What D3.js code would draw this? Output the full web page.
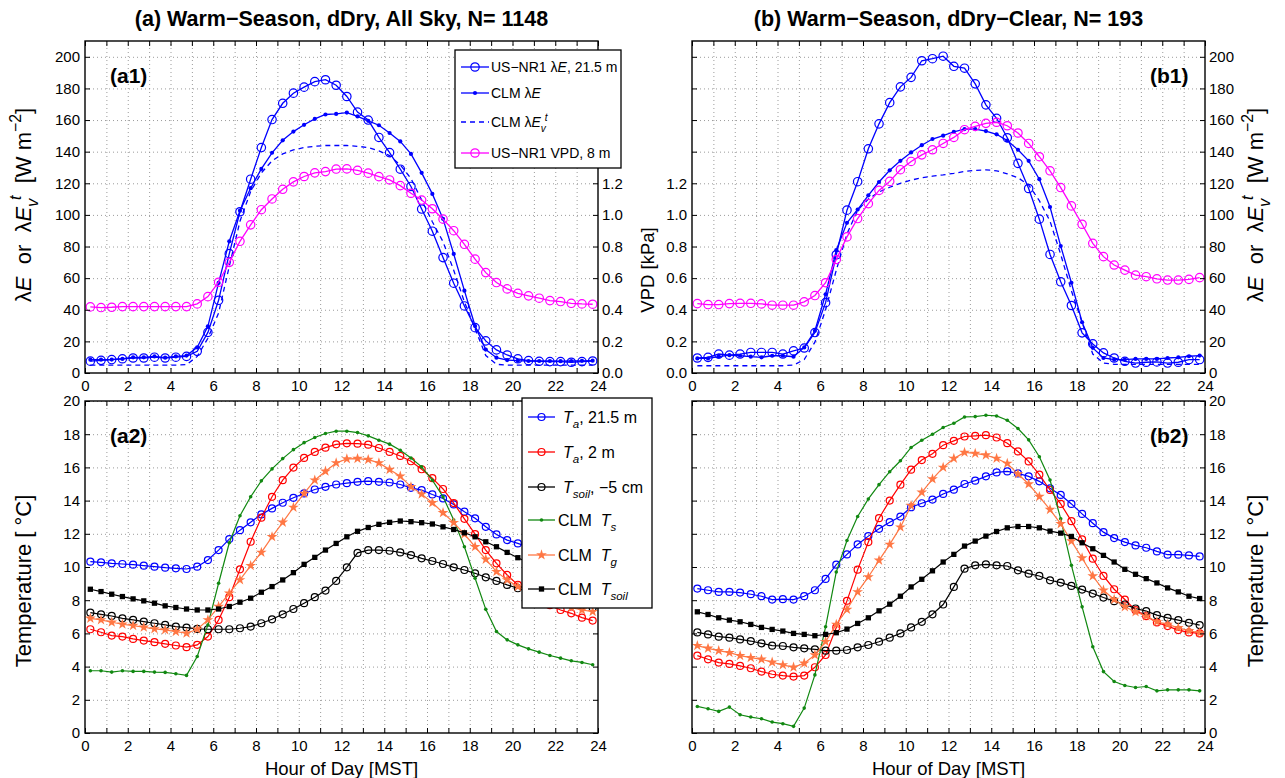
<!DOCTYPE html>
<html><head><meta charset="utf-8">
<script src="https://cdn.jsdelivr.net/npm/d3@7"></script>
<style>
body{margin:0;background:#fff;}
svg text{font-family:"Liberation Sans",Arial,Helvetica,sans-serif;white-space:pre;}
</style></head><body>
<svg id="fig" width="1285" height="778"></svg>
<script>
// Half-hourly bin centres (hour of day, MST)
const hours = [0.25,0.75,1.25,1.75,2.25,2.75,3.25,3.75,4.25,4.75,5.25,5.75,6.25,6.75,7.25,7.75,8.25,8.75,9.25,9.75,10.25,10.75,11.25,11.75,
  12.25,12.75,13.25,13.75,14.25,14.75,15.25,15.75,16.25,16.75,17.25,17.75,18.25,18.75,19.25,19.75,20.25,20.75,21.25,21.75,22.25,22.75,23.25,23.75];

// Tick values
const hourTicks = [0,1,2,3,4,5,6,7,8,9,10,11,12,13,14,15,16,17,18,19,20,21,22,23,24];
const leTicks = [0,20,40,60,80,100,120,140,160,180,200];
const vpdTicks = [0,0.2,0.4,0.6,0.8,1.0,1.2,1.4,1.6,1.8,2.0];
const vpdLabelled = [0,0.2,0.4,0.6,0.8,1.0,1.2];
const tempTicks = [0,2,4,6,8,10,12,14,16,18,20];

// (a1) all-sky latent heat flux [W m-2] and VPD [kPa]
const a1ObsLE = [7.5,8,8.5,9,9.5,9.5,10,9.5,10,10.5,13.7,25.7,46,75.5,102,122.6,142.6,160.3,170.6,177,180.8,184.3,185.5,182,
  174.9,165,160,149,139.4,128.9,118,103.7,89.7,73,56.8,42.4,28.7,20.3,14.6,11.4,9,7.8,7.4,7.2,7.2,6.8,7.2,7.6];
const a1ClmLE = [8.4,8.4,8.5,8.9,9.9,9.9,10.5,9.7,10.5,11,16.2,29.5,57,83.3,102.7,116.9,129.1,139.3,147.2,152.7,157,160.7,163.5,163.9,
  164.7,162.3,159.5,156.7,151.8,146.5,138.6,126.6,113.3,97.5,75.3,52.1,29.7,14.8,9.7,8.2,7.8,7.6,7.6,7.6,7.5,7.6,7.7,7.8];
const a1ClmLEvt = [5,5,5,5,5,5,5,5,5,5.3,10.5,22,38,67.5,96,114.8,126.6,134.2,138.6,141.1,142.6,143.4,143.9,143.9,
  143.9,143.4,142.6,140.5,137.5,131.6,123,109.4,95.7,83,65,45,28,11,5.5,5,5,5,5,5,5,5,5,5];
const a1Vpd = [0.418,0.414,0.416,0.42,0.42,0.42,0.42,0.42,0.42,0.42,0.437,0.483,0.574,0.70,0.833,0.937,1.033,1.101,1.162,1.209,1.243,1.266,1.274,1.29,
  1.291,1.282,1.264,1.242,1.221,1.185,1.137,1.094,1.039,0.973,0.90,0.814,0.72,0.635,0.572,0.532,0.504,0.488,0.473,0.458,0.452,0.441,0.437,0.435];

// (b1) clear-sky latent heat flux [W m-2] and VPD [kPa]
const b1ObsLE = [9.5,9.9,12,11.3,12,13,13,13,12,14,15.8,25.6,44.5,74.8,103,121,141.8,157.6,171,181,187,197.5,198.8,200.4,
  194,192.8,182.9,169.6,161.1,148.8,132.6,116.7,97.3,75,57.7,42.7,25.4,18.4,12.7,9.5,7.4,6.3,6.8,7,6.3,6.8,8.5,8.5];
const b1ClmLE = [9.2,9.2,10.3,11.3,10.9,10.3,9.9,10.9,10.9,10.3,16.2,26.7,49.8,77.7,95,103.4,112.4,120.8,128.2,134.2,139.5,144.1,148,150.1,
  152.6,154.3,154.3,153,151,147,141.2,134.2,122.6,105,80.3,57.1,32.1,15.9,9.5,8.5,8.5,8.9,8.9,8.9,9.5,9.9,10.6,11];
const b1ClmLEvt = [4.6,4.6,4.6,4.6,4.6,4.6,4.6,4.6,4.6,5,8.5,19.5,40,65,88,103,110,114.5,117.5,120,122,123.5,124.5,125.3,
  126.3,127.5,128.2,128.5,127.9,126,123.5,119,109,96,75,52,32,12,6.3,5.5,5.5,5.5,5.5,5.5,5.5,5.5,5.5,5.5];
const b1Vpd = [0.439,0.433,0.433,0.439,0.441,0.441,0.437,0.429,0.429,0.429,0.45,0.49,0.571,0.718,0.861,0.977,1.071,1.155,1.212,1.286,1.338,1.38,1.412,1.452,
  1.49,1.539,1.56,1.579,1.586,1.564,1.518,1.452,1.368,1.279,1.173,1.057,0.941,0.82,0.736,0.683,0.651,0.619,0.609,0.596,0.588,0.588,0.592,0.603];

// (a2) all-sky temperatures [deg C]
const a2TaTop = [10.32,10.28,10.22,10.18,10.14,10.08,10.02,9.96,9.92,9.88,10.02,10.42,11.02,11.68,12.22,12.69,13.17,13.53,13.87,14.17,14.43,14.67,14.83,14.97,
  15.05,15.13,15.17,15.13,15.09,14.97,14.77,14.63,14.37,14.13,13.77,13.33,12.93,12.42,11.96,11.62,11.42,11.2,11.0,10.85,10.7,10.6,10.5,10.4];
const a2Ta2m = [6.25,6.07,5.87,5.81,5.67,5.57,5.47,5.37,5.27,5.17,5.31,5.81,6.81,8.18,9.86,11.52,12.97,14.23,15.23,15.99,16.57,16.93,17.19,17.39,
  17.45,17.43,17.37,17.17,16.93,16.69,16.37,15.89,15.35,14.7,13.85,12.9,11.98,11.02,10.22,9.52,8.92,8.5,8.1,7.7,7.41,7.21,6.95,6.77];
const a2TsoilObs = [7.25,7.15,7.05,6.91,6.81,6.71,6.61,6.51,6.41,6.35,6.27,6.25,6.25,6.25,6.31,6.41,6.61,6.85,7.15,7.47,7.82,8.18,8.58,9.16,
  9.98,10.85,11.02,11.02,10.98,10.88,10.72,10.52,10.36,10.18,9.98,9.82,9.62,9.38,9.16,8.92,8.72,8.55,8.35,8.2,8.0,7.85,7.7,7.55];
const a2ClmTs = [3.75,3.75,3.67,3.75,3.71,3.71,3.67,3.65,3.57,3.47,4.61,6.51,9.02,11.46,13.09,14.23,15.19,15.91,16.53,17.07,17.49,17.80,18.04,18.18,
  18.18,18.1,17.9,17.64,17.4,17.03,16.57,16.03,15.23,14.23,12.83,11.22,9.32,7.45,6.11,5.61,5.31,5.07,4.87,4.67,4.51,4.35,4.25,4.11];
const a2ClmTg = [6.91,6.81,6.67,6.55,6.47,6.37,6.27,6.21,6.11,6.01,6.25,6.81,7.62,8.42,9.22,10.08,10.88,11.82,12.69,13.59,14.43,15.23,15.77,16.27,
  16.51,16.53,16.47,16.27,15.87,15.47,14.83,14.39,13.87,13.27,12.67,11.98,11.22,10.46,9.72,9.22,8.82,8.5,8.2,7.95,7.75,7.55,7.41,7.31];
const a2ClmTsoil = [8.66,8.52,8.36,8.22,8.08,7.96,7.82,7.66,7.56,7.47,7.41,7.41,7.47,7.62,7.88,8.12,8.48,8.82,9.22,9.66,10.16,10.58,11.02,11.42,
  11.82,12.15,12.38,12.57,12.69,12.77,12.73,12.67,12.59,12.42,12.26,12.06,11.82,11.52,11.22,10.88,10.56,10.25,9.95,9.65,9.4,9.15,8.95,8.75];

// (b2) clear-sky temperatures [deg C]
const b2TaTop = [8.7,8.6,8.5,8.5,8.46,8.36,8.24,8.04,8.06,8.04,8.24,8.6,9.28,10.14,10.76,11.36,11.86,12.3,12.7,13.04,13.6,13.84,14.06,14.4,
  14.66,15.0,15.2,15.46,15.7,15.76,15.64,15.46,15.16,14.74,14.34,13.8,13.2,12.64,12.1,11.74,11.5,11.3,11.16,10.94,10.74,10.74,10.7,10.64];
const b2Ta2m = [4.66,4.44,4.24,4.16,4.04,3.9,3.7,3.54,3.46,3.4,3.46,3.96,4.7,6.36,7.96,9.84,11.5,12.94,14.0,14.96,15.86,16.44,16.82,17.34,
  17.6,17.86,17.9,17.94,17.8,17.46,16.96,16.36,15.56,14.64,13.8,12.76,11.66,10.5,9.46,8.66,8.04,7.4,7.04,6.66,6.44,6.2,6.06,6.0];
const b2TsoilObs = [6.06,5.94,5.8,5.74,5.64,5.54,5.4,5.26,5.24,5.16,5.1,5.04,4.96,4.96,5.0,5.16,5.3,5.5,5.74,6.0,6.36,6.7,7.15,7.74,
  8.8,9.9,10.1,10.16,10.1,10.06,9.8,9.6,9.46,9.2,9.06,8.86,8.64,8.4,8.16,7.94,7.74,7.5,7.34,7.1,6.94,6.8,6.64,6.5];
const b2ClmTs = [1.6,1.46,1.3,1.56,1.1,0.96,0.86,0.66,0.56,0.4,1.5,3.5,6.4,9.7,11.6,13.04,14.1,14.96,15.74,16.4,17.2,17.64,18.0,18.4,
  18.66,19.04,19.06,19.14,19.1,18.84,18.34,17.66,16.64,15.24,12.9,10.1,7.6,5.2,3.7,3.1,2.86,2.74,2.8,2.54,2.6,2.6,2.6,2.54];
const b2ClmTg = [5.26,5.1,4.96,4.84,4.66,4.54,4.44,4.26,4.1,3.96,4.2,4.7,5.5,6.54,7.44,8.5,9.4,10.4,11.36,12.4,13.7,14.5,15.3,16.0,
  16.54,16.9,16.84,16.74,16.54,16.24,15.6,15.0,14.24,13.46,12.6,11.56,10.54,9.46,8.6,8.04,7.6,7.3,7.04,6.7,6.54,6.34,6.16,6.04];
const b2ClmTsoil = [7.3,7.14,6.94,6.8,6.7,6.54,6.36,6.24,6.14,6.0,5.94,5.86,5.94,6.04,6.26,6.6,6.94,7.36,7.76,8.24,8.8,9.26,9.77,10.3,
  10.76,11.26,11.56,11.86,12.14,12.36,12.44,12.44,12.36,12.16,12.04,11.84,11.46,11.1,10.7,10.3,9.86,9.56,9.3,9.04,8.74,8.5,8.24,8.1];

const BLUE = "#0000ff", MAG = "#ff00ff", RED = "#ff0000", BLACK = "#000000", GREEN = "#118811", ORANGE = "#ff7744";
const FONT = '"Liberation Sans",Arial,Helvetica,sans-serif';

const svg = d3.select("#fig");
svg.append("rect").attr("width",1285).attr("height",778).attr("fill","#fff");

const colA = [85, 598], colB = [692, 1205];
const rowTop = [41, 373], rowBot = [401, 733];

function makePanel(xr, yr) {
  return { xr, yr, x: d3.scaleLinear([0, 24], xr) };
}

// rich text: parts = [{t, i, sub, sup, dx}]
function rich(sel, parts, fs) {
  let shift = 0;
  parts.forEach(p => {
    const s = p.sub ? fs * 0.32 : (p.sup ? -fs * 0.45 : 0);
    const ts = sel.append("tspan").text(p.t).attr("dy", s - shift);
    shift = s;
    if (p.sub || p.sup) ts.attr("font-size", fs * 0.72);
    if (p.i) ts.attr("font-style", "italic");
    if (p.dx) ts.attr("dx", p.dx);
  });
  return sel;
}

function grid(p, yScale, yVals) {
  const g = svg.append("g");
  const h = p.yr[1] - p.yr[0], w = p.xr[1] - p.xr[0];
  g.append("g").attr("transform", `translate(0,${p.yr[1]})`)
    .call(d3.axisBottom(p.x).tickValues(hourTicks.slice(1, -1)).tickSize(-h).tickFormat(""));
  g.append("g").attr("transform", `translate(${p.xr[0]},0)`)
    .call(d3.axisLeft(yScale).tickValues(yVals.slice(1)).tickSize(-w).tickFormat(""));
  g.selectAll(".domain").remove();
  g.selectAll("line").attr("stroke", "#909090").attr("stroke-width", 0.9).attr("stroke-dasharray", "1,3");
}

function frameAxes(p, left, right, showX) {
  const g = svg.append("g");
  g.append("g").attr("transform", `translate(0,${p.yr[1]})`)
    .call(d3.axisBottom(p.x).tickValues(hourTicks).tickSizeInner(-5).tickSizeOuter(0).tickPadding(7)
      .tickFormat(d => (showX && d % 2 === 0) ? d : ""));
  g.append("g").attr("transform", `translate(0,${p.yr[0]})`)
    .call(d3.axisTop(p.x).tickValues(hourTicks).tickSizeInner(-5).tickSizeOuter(0).tickFormat(""));
  g.append("g").attr("transform", `translate(${p.xr[0]},0)`)
    .call(d3.axisLeft(left.scale).tickValues(left.ticks).tickSizeInner(-5).tickSizeOuter(0).tickPadding(5)
      .tickFormat(d => left.labels && left.labels.some(v => Math.abs(v - d) < 1e-9) ? left.fmt(d) : ""));
  g.append("g").attr("transform", `translate(${p.xr[1]},0)`)
    .call(d3.axisRight(right.scale).tickValues(right.ticks).tickSizeInner(-5).tickSizeOuter(0).tickPadding(4)
      .tickFormat(d => right.labels && right.labels.some(v => Math.abs(v - d) < 1e-9) ? right.fmt(d) : ""));
  g.selectAll(".domain").remove();
  g.selectAll("line").attr("stroke", "#000").attr("stroke-width", 1);
  g.selectAll("text").attr("font-size", 15).attr("font-family", FONT).attr("fill", "#000");
  svg.append("rect").attr("x", p.xr[0]).attr("y", p.yr[0])
    .attr("width", p.xr[1] - p.xr[0]).attr("height", p.yr[1] - p.yr[0])
    .attr("fill", "none").attr("stroke", "#000").attr("stroke-width", 1.4);
}

function drawMarker(g, type, color, cx, cy, size) {
  if (type === "circle") {
    g.append("circle").attr("cx", cx).attr("cy", cy).attr("r", size)
      .attr("fill", "none").attr("stroke", color).attr("stroke-width", 1.2);
  } else if (type === "dot") {
    g.append("circle").attr("cx", cx).attr("cy", cy).attr("r", size).attr("fill", color);
  } else if (type === "square") {
    g.append("path").attr("d", d3.symbol(d3.symbolSquare, size)()).attr("transform", `translate(${cx},${cy})`).attr("fill", color);
  } else if (type === "star") {
    g.append("path").attr("d", d3.symbol(d3.symbolStar, size)()).attr("transform", `translate(${cx},${cy})`).attr("fill", color);
  }
}

function series(p, yScale, vals, st) {
  const g = svg.append("g");
  const data = hours.map((h, i) => ({ h, v: vals[i] }));
  g.append("path").datum(data)
    .attr("d", d3.line().x(d => p.x(d.h)).y(d => yScale(d.v)))
    .attr("fill", "none").attr("stroke", st.color).attr("stroke-width", st.lw || 1.3)
    .attr("stroke-dasharray", st.dash || null);
  if (st.marker) data.forEach(d => drawMarker(g, st.marker, st.color, p.x(d.h), yScale(d.v), st.size));
}

function legend(box, entries, fs) {
  const g = svg.append("g");
  g.append("rect").attr("x", box.x).attr("y", box.y).attr("width", box.w).attr("height", box.h)
    .attr("fill", "#fff").attr("stroke", "#000").attr("stroke-width", 1.3);
  entries.forEach(e => {
    const g2 = g.append("g");
    g2.append("line").attr("x1", box.lx0).attr("x2", box.lx1).attr("y1", e.y).attr("y2", e.y)
      .attr("stroke", e.st.color).attr("stroke-width", 1.3).attr("stroke-dasharray", e.st.dash || null);
    if (e.st.marker) drawMarker(g2, e.st.marker, e.st.color, (box.lx0 + box.lx1) / 2, e.y, e.st.size);
    rich(g2.append("text").attr("x", e.tx).attr("y", e.y + fs * 0.36).attr("font-size", fs), e.parts, fs);
  });
}

// ---------- panels ----------
const pA1 = makePanel(colA, rowTop), pB1 = makePanel(colB, rowTop);
const pA2 = makePanel(colA, rowBot), pB2 = makePanel(colB, rowBot);
const yLeA = d3.scaleLinear([0, 210], [rowTop[1], rowTop[0]]);
const yVpdA = d3.scaleLinear([0, 2.1], [rowTop[1], rowTop[0]]);
const yLeB = d3.scaleLinear([0, 210], [rowTop[1], rowTop[0]]);
const yVpdB = d3.scaleLinear([0, 2.1], [rowTop[1], rowTop[0]]);
const yTA = d3.scaleLinear([0, 20], [rowBot[1], rowBot[0]]);
const yTB = d3.scaleLinear([0, 20], [rowBot[1], rowBot[0]]);

grid(pA1, yLeA, leTicks); grid(pB1, yLeB, leTicks);
grid(pA2, yTA, tempTicks); grid(pB2, yTB, tempTicks);

const stObs = { color: BLUE, marker: "circle", size: 4.2 };
const stClm = { color: BLUE, marker: "dot", size: 2.1 };
const stVt = { color: BLUE, dash: "5,4" };
const stVpd = { color: MAG, marker: "circle", size: 4.2 };

series(pA1, yLeA, a1ObsLE, stObs);
series(pA1, yLeA, a1ClmLE, stClm);
series(pA1, yLeA, a1ClmLEvt, stVt);
series(pA1, yVpdA, a1Vpd, stVpd);

series(pB1, yLeB, b1ObsLE, stObs);
series(pB1, yLeB, b1ClmLE, stClm);
series(pB1, yLeB, b1ClmLEvt, stVt);
series(pB1, yVpdB, b1Vpd, stVpd);

const stTaTop = { color: BLUE, marker: "circle", size: 3.5, lw: 1.2 };
const stTa2m = { color: RED, marker: "circle", size: 3.5, lw: 1.2 };
const stTsoilObs = { color: BLACK, marker: "circle", size: 3.5, lw: 1.2 };
const stTs = { color: GREEN, marker: "dot", size: 1.8, lw: 1.2 };
const stTg = { color: ORANGE, marker: "star", size: 36, lw: 1.2 };
const stTsoilClm = { color: BLACK, marker: "square", size: 28, lw: 1.2 };

[[pA2, yTA, [a2TaTop, a2Ta2m, a2TsoilObs, a2ClmTs, a2ClmTg, a2ClmTsoil]],
 [pB2, yTB, [b2TaTop, b2Ta2m, b2TsoilObs, b2ClmTs, b2ClmTg, b2ClmTsoil]]].forEach(([p, ys, arr]) => {
  const sts = [stTaTop, stTa2m, stTsoilObs, stTs, stTg, stTsoilClm];
  arr.forEach((v, i) => series(p, ys, v, sts[i]));
});

const fmt0 = d3.format("d"), fmt1 = d3.format(".1f");
frameAxes(pA1, { scale: yLeA, ticks: leTicks, labels: leTicks, fmt: fmt0 },
               { scale: yVpdA, ticks: vpdTicks, labels: vpdLabelled, fmt: fmt1 }, true);
frameAxes(pB1, { scale: yVpdB, ticks: vpdTicks, labels: vpdLabelled, fmt: fmt1 },
               { scale: yLeB, ticks: leTicks, labels: leTicks, fmt: fmt0 }, true);
frameAxes(pA2, { scale: yTA, ticks: tempTicks, labels: tempTicks, fmt: fmt0 },
               { scale: yTA, ticks: tempTicks, labels: null, fmt: fmt0 }, true);
frameAxes(pB2, { scale: yTB, ticks: tempTicks, labels: null, fmt: fmt0 },
               { scale: yTB, ticks: tempTicks, labels: tempTicks, fmt: fmt0 }, true);

// ---------- legends ----------
legend({ x: 455, y: 50, w: 166, h: 118, lx0: 461, lx1: 489 }, [
  { y: 67, st: stObs, tx: 491, parts: [{ t: "US−NR1 λ" }, { t: "E", i: 1 }, { t: ", 21.5 m" }] },
  { y: 93, st: stClm, tx: 491, parts: [{ t: "CLM λ" }, { t: "E", i: 1 }] },
  { y: 122, st: stVt, tx: 491, parts: [{ t: "CLM λ" }, { t: "E", i: 1 }, { t: "v", i: 1, sub: 1 }, { t: "t", i: 1, sup: 1, dx: -1 }] },
  { y: 153, st: stVpd, tx: 491, parts: [{ t: "US−NR1 VPD, 8 m" }] }
], 14);

legend({ x: 522, y: 398, w: 130, h: 210, lx0: 528, lx1: 555 }, [
  { y: 417, st: stTaTop, tx: 563, parts: [{ t: "T", i: 1 }, { t: "a", i: 1, sub: 1 }, { t: ", 21.5 m" }] },
  { y: 452, st: stTa2m, tx: 563, parts: [{ t: "T", i: 1 }, { t: "a", i: 1, sub: 1 }, { t: ", 2 m" }] },
  { y: 487, st: stTsoilObs, tx: 563, parts: [{ t: "T", i: 1 }, { t: "soil", i: 1, sub: 1 }, { t: ", −5 cm" }] },
  { y: 520, st: stTs, tx: 558, parts: [{ t: "CLM  " }, { t: "T", i: 1 }, { t: "s", i: 1, sub: 1 }] },
  { y: 555, st: stTg, tx: 558, parts: [{ t: "CLM  " }, { t: "T", i: 1 }, { t: "g", i: 1, sub: 1 }] },
  { y: 589, st: stTsoilClm, tx: 558, parts: [{ t: "CLM  " }, { t: "T", i: 1 }, { t: "soil", i: 1, sub: 1 }] }
], 16);

// ---------- titles, panel tags, axis labels ----------
svg.append("text").attr("x", (colA[0] + colA[1]) / 2).attr("y", 26).attr("text-anchor", "middle")
  .attr("font-size", 21.5).attr("font-weight", "bold").text("(a) Warm−Season, dDry, All Sky, N= 1148");
svg.append("text").attr("x", (colB[0] + colB[1]) / 2).attr("y", 26).attr("text-anchor", "middle")
  .attr("font-size", 21.5).attr("font-weight", "bold").text("(b) Warm−Season, dDry−Clear, N= 193");

[["(a1)", 110, 83], ["(a2)", 110, 443], ["(b1)", 1150, 83], ["(b2)", 1150, 443]].forEach(([t, x, y]) =>
  svg.append("text").attr("x", x).attr("y", y).attr("font-size", 21).attr("font-weight", "bold").text(t));

[pA2, pB2].forEach(p => svg.append("text").attr("x", (p.xr[0] + p.xr[1]) / 2).attr("y", 775)
  .attr("text-anchor", "middle").attr("font-size", 18.5).text("Hour of Day [MST]"));

const leLabel = [{ t: "λ" }, { t: "E", i: 1 }, { t: "  or  λ" }, { t: "E", i: 1 }, { t: "v", i: 1, sub: 1 },
  { t: "t", i: 1, sup: 1, dx: -1 }, { t: "  [W m" }, { t: "−2", sup: 1 }, { t: "]" }];
[[31, 205], [1263, 205]].forEach(([x, y]) =>
  rich(svg.append("text").attr("transform", `translate(${x},${y}) rotate(-90)`).attr("text-anchor", "middle")
    .attr("font-size", 22), leLabel, 22));
[[31, 581], [1263, 581]].forEach(([x, y]) =>
  svg.append("text").attr("transform", `translate(${x},${y}) rotate(-90)`).attr("text-anchor", "middle")
    .attr("font-size", 22).text("Temperature [ °C]"));
svg.append("text").attr("transform", "translate(654,270) rotate(-90)").attr("text-anchor", "middle")
  .attr("font-size", 18.5).text("VPD [kPa]");
</script></body></html>
